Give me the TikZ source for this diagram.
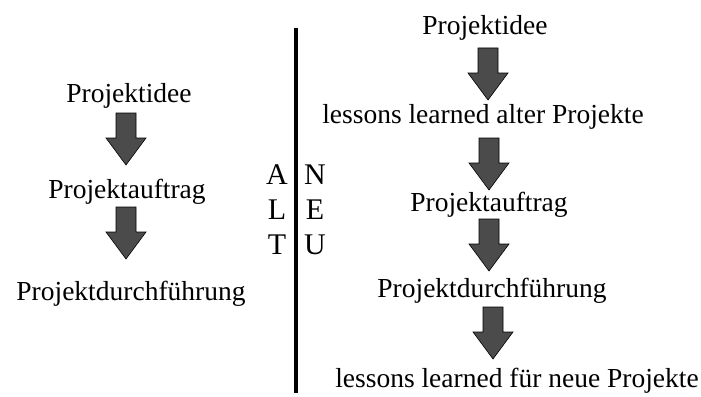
\documentclass[tikz,border=0pt]{standalone}
\usepackage{fontspec}
\setmainfont{Liberation Serif}
\definecolor{pfeilgrau}{HTML}{4B4B4B}

\tikzset{
  schritt/.style={font=\fontsize{27.5}{30}\selectfont, inner sep=0pt, anchor=base},
  kennung/.style={font=\fontsize{30}{35}\selectfont, align=center, inner sep=0pt},
  pfeil/.style={fill=pfeilgrau, draw=black, line width=0.6pt},
}
% block arrow, #1 = top centre of the shaft
\newcommand{\blockpfeil}[1]{%
  \draw[pfeil, shift={#1}] (-10,0) -- (10,0) -- (10,25) -- (20,25) -- (0,52)
    -- (-20,25) -- (-10,25) -- cycle;}

\begin{document}
\begin{tikzpicture}[x=1pt, y=-1pt]
\useasboundingbox (0,0) rectangle (701,396);

% === LEFT: ALT ===
\node[schritt] (alt-idee)    at (129,102) {Projektidee};
\node[schritt] (alt-auftrag) at (127,198) {Projektauftrag};
\node[schritt] (alt-durchf)  at (131,300) {Projektdurchführung};

\blockpfeil{(126,113)}
\blockpfeil{(126,207)}

% === DIVIDER ===
\coordinate (trenn-oben)  at (296,28);
\coordinate (trenn-unten) at (296,393);
\draw[line width=3.5pt] (trenn-oben) -- (trenn-unten);

\node[kennung] (alt) at (277,210) {A\\L\\T};
\node[kennung] (neu) at (315,210) {N\\E\\U};

% === RIGHT: NEU ===
\node[schritt] (neu-idee)    at (485,35)  {Projektidee};
\node[schritt] (neu-ll-alt)  at (483,123) {lessons learned alter Projekte};
\node[schritt] (neu-auftrag) at (489,211) {Projektauftrag};
\node[schritt] (neu-durchf)  at (492,297) {Projektdurchführung};
\node[schritt] (neu-ll-neu)  at (517,387) {lessons learned für neue Projekte};

\blockpfeil{(488,48)}
\blockpfeil{(489,138)}
\blockpfeil{(489,219)}
\blockpfeil{(493,307)}

\end{tikzpicture}
\end{document}
